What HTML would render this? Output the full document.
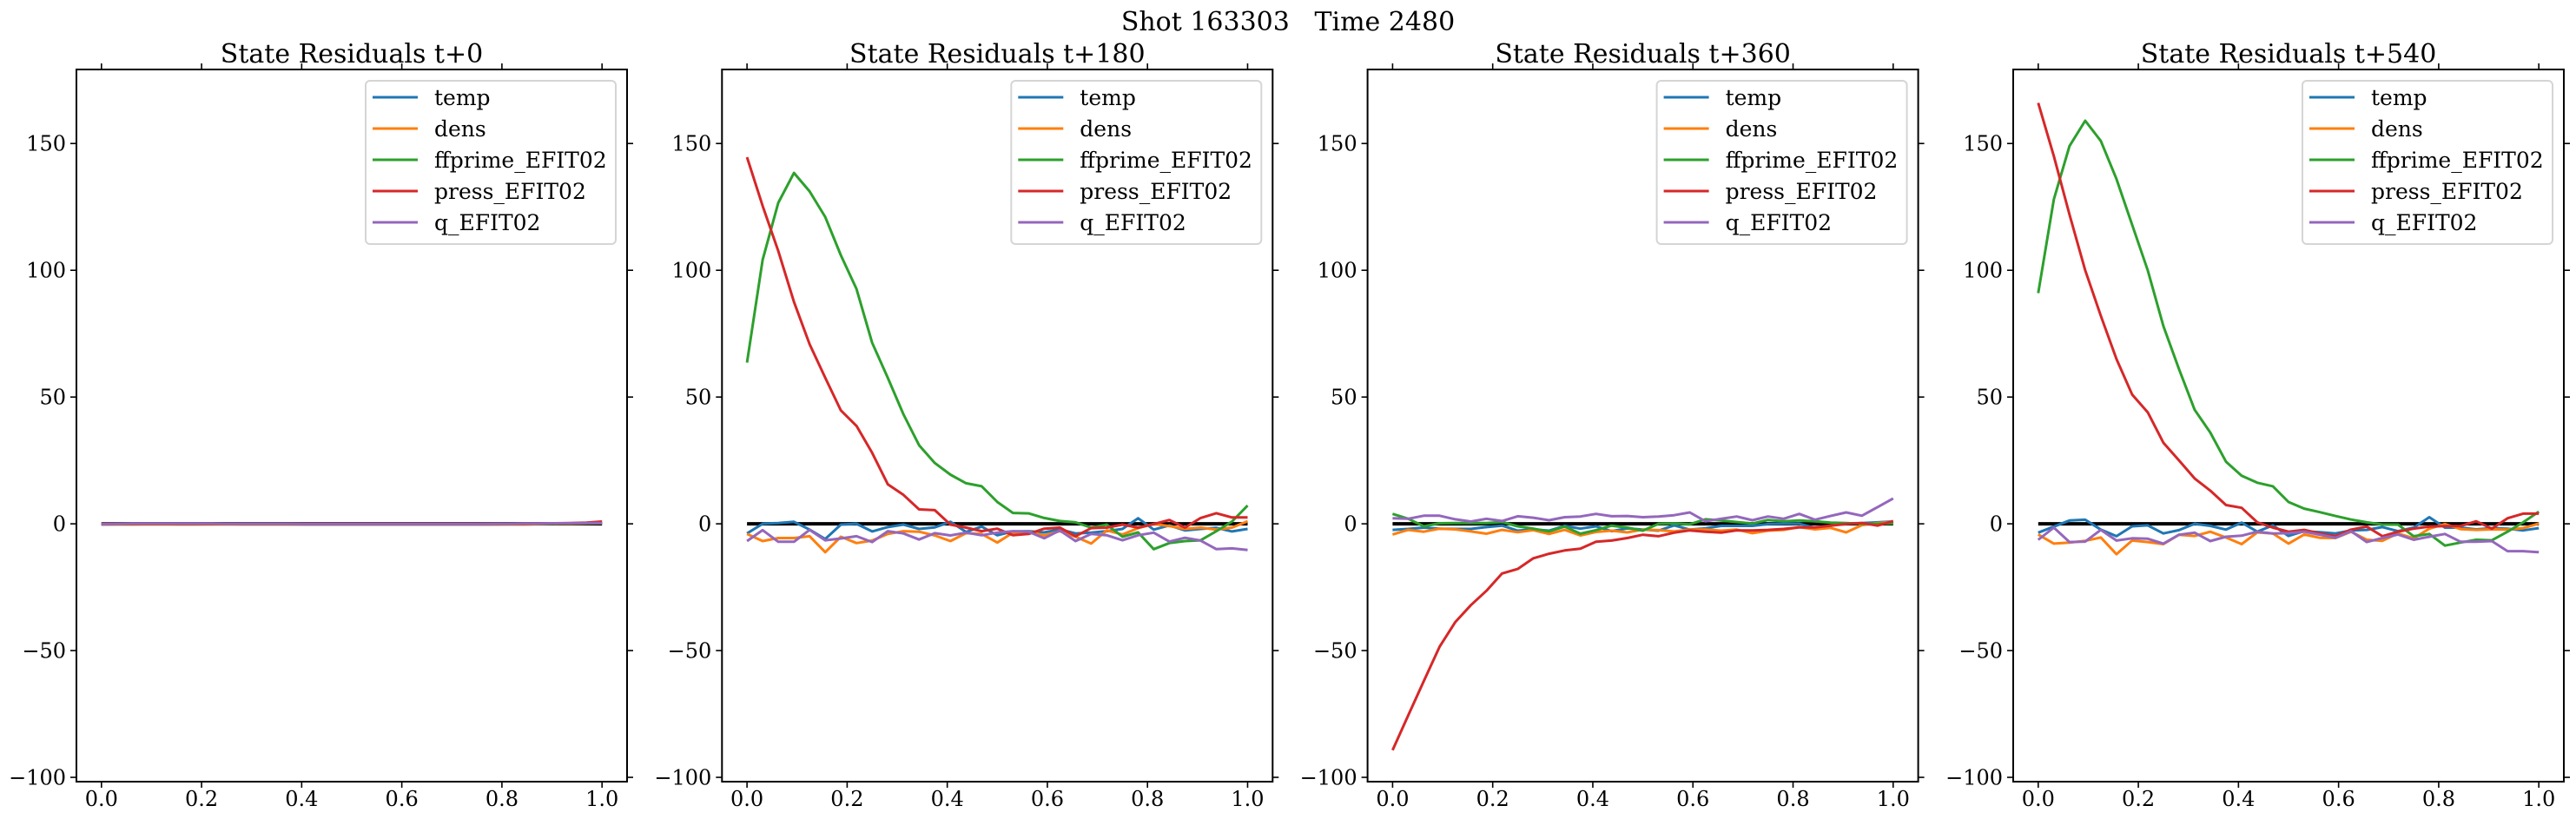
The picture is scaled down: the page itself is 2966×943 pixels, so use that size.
<!DOCTYPE html>
<html><head><meta charset="utf-8"><style>
html,body{margin:0;padding:0;background:#fff;}
svg{display:block;font-family:"DejaVu Serif","Liberation Serif",serif;}
</style></head><body>
<svg id="chart" width="2966" height="943" viewBox="0 0 2966 943" xmlns="http://www.w3.org/2000/svg">
<text x="1483" y="35" font-size="30" text-anchor="middle">Shot 163303&#160;&#160;&#160;Time 2480</text>
</svg>
<script>
const panelTitles = ["State Residuals t+0","State Residuals t+180","State Residuals t+360","State Residuals t+540"];
const seriesNames = ["temp","dens","ffprime_EFIT02","press_EFIT02","q_EFIT02"];
const seriesColors = ["#1f77b4","#ff7f0e","#2ca02c","#d62728","#9467bd"];
const xTicks = [0.0,0.2,0.4,0.6,0.8,1.0];
const xTickLabels = ["0.0","0.2","0.4","0.6","0.8","1.0"];
const yTicks = [150,100,50,0,-50,-100];
const yTickLabels = ["150","100","50","0","\u221250","\u2212100"];
const nPoints = 33;

// panel 1 (t+0)
const p0_temp = [-0.3,-0.2,-0.2,-0.1,-0.1,-0.2,-0.2,-0.1,-0.1,-0.2,-0.2,-0.2,-0.2,-0.3,-0.3,-0.3,-0.3,-0.3,-0.3,-0.3,-0.3,-0.3,-0.3,-0.3,-0.3,-0.3,-0.2,-0.2,-0.1,0,0.1,0.2,0.3];
const p0_dens = [-0.2,-0.2,-0.2,-0.2,-0.2,-0.2,-0.2,-0.2,-0.2,-0.2,-0.2,-0.2,-0.2,-0.2,-0.2,-0.2,-0.2,-0.2,-0.2,-0.2,-0.2,-0.2,-0.2,-0.2,-0.2,-0.2,-0.2,-0.2,-0.1,0,0,0.1,0.2];
const p0_ff = [0,0,0,0,0,0,0,0,0,0,0,0,0,0,0,0,0,0,0,0,0,0,0,0,0,0,0,0,0,0.1,0.1,0.2,0.3];
const p0_press = [0,0,0,0,0,0,0,0,0,0,0,0,0,0,0,0,0,0,0,0,0,0,0,0,0,0,0,0,0.1,0.2,0.3,0.5,0.9];
const p0_q = [-0.1,0,0.1,0.1,0.1,0.1,0.1,0.1,0,0,0,0,0,-0.1,-0.1,-0.1,-0.1,-0.1,-0.1,-0.1,-0.1,-0.1,-0.1,-0.1,-0.1,0,0,0.1,0.1,0.2,0.2,0.3,0.3];

// panel 2 (t+180)
const p1_temp = [-3.8,0,0.3,0.8,-2.3,-6,-0.3,0,-3,-1.3,-0.3,-2,-1.4,0.8,-3.2,-1.1,-4.5,-3,-2.9,-3.4,-2.2,-3.8,-3.5,-2.9,-2,2.2,-2.3,-0.6,-2.6,-2,-1.6,-3,-2];
const p1_dens = [-4,-6.8,-5.6,-5.6,-4.9,-11.2,-5.1,-7.6,-6.6,-4,-2.9,-3.1,-4.6,-6.8,-3.7,-4,-7.4,-3.5,-3.1,-4.6,-2.9,-5.1,-7.8,-2.6,-4.2,-1.7,-0.1,-0.9,-2,-1.5,-2.3,-1.5,1];
const p1_ff = [63.6,104.1,126.6,138.4,131.1,121,105.9,92.6,71.4,57.6,43.2,31,24,19.4,16,14.8,8.6,4.3,4.1,2.3,1.1,0.6,-1.5,-0.3,-5.1,-3.4,-10,-7.6,-6.8,-6.5,-2.9,0.9,7.2];
const p1_press = [144.6,125.4,107.6,87.5,70.8,57.6,44.7,38.6,28,15.6,11.4,5.7,5.4,-0.3,-1.5,-2.9,-1.9,-4.5,-4,-1.9,-1.5,-4.9,-1.7,-1.5,-0.3,-1.5,-0.1,1.5,-1.5,2.3,4.2,2.5,2.5];
const p1_q = [-6.8,-2.5,-7.1,-7.1,-2.4,-6.5,-5.8,-4.9,-7.2,-2.9,-3.8,-6.2,-3.7,-4.6,-3.5,-4.5,-3.5,-2.9,-3.1,-5.7,-2.6,-6.8,-4,-4.5,-6.5,-4.5,-3.5,-7,-5.5,-6.6,-10,-9.7,-10.3];

// panel 3 (t+360)
const p2_temp = [-2.4,-2,-1.5,-1.9,-2,-2,-1.3,-0.7,-2.7,-2.2,-2.7,-0.8,-1.9,-1,-2.9,-1.8,-2.3,-2.7,-0.6,-2.3,-1.8,-0.8,-0.8,-0.8,-0.1,0,0,-1.6,-0.7,0.1,0.3,0.6,0.9];
const p2_dens = [-4.2,-2.4,-3.1,-1.9,-2.2,-3,-3.9,-2.4,-3.3,-2.5,-4,-2.4,-4.6,-3.2,-2.7,-3.4,-2.3,-2.5,-3,-2.3,-2.3,-2.7,-2.3,-3.7,-2.7,-2.4,-1.3,-2.2,-1.6,-3.4,-0.5,0.3,0.7];
const p2_ff = [3.9,2,-1,0.2,0.3,0.3,0.3,0.7,-1,-1.9,-3,-1.1,-3.9,-2.5,-0.7,-1.5,-2.7,0,0.1,-0.2,1.8,1.3,0.7,0.1,1.5,1,1.3,1,0.5,0.3,0,0,0.1];
const p2_press = [-89.3,-75.6,-62,-48.5,-38.8,-32.1,-26.4,-19.6,-17.8,-13.6,-11.8,-10.5,-9.8,-7.1,-6.6,-5.6,-4.3,-4.9,-3.5,-2.6,-3.1,-3.5,-2.6,-2.6,-2.4,-2,-1.4,-1.4,-0.7,-0.1,0.3,-0.7,1.1];
const p2_q = [2.2,2,3.2,3.2,1.8,0.9,2,1.1,3,2.4,1.4,2.6,2.9,3.9,3,3.1,2.6,2.9,3.4,4.5,1,2,2.9,1.4,2.9,2,3.9,1.6,3.1,4.5,3.2,6.6,10];

// panel 4 (t+540)
const p3_temp = [-3.5,-1.1,1.3,1.6,-2.3,-4.9,-1,-0.6,-3.8,-2.5,0,-0.8,-2.3,0.5,-3.1,-0.6,-4.8,-2.9,-3.3,-3.8,-2.6,-2.4,-1.3,-2.9,-1.5,2.6,-1.5,-1.5,-2.2,-1.7,-1.9,-2.6,-1.7];
const p3_dens = [-4.2,-7.8,-7.4,-6.7,-5.4,-12,-6.6,-7.2,-8,-4.3,-4.8,-3.1,-5.4,-8,-3.4,-3.8,-7.8,-4.2,-5.5,-5.6,-3.1,-6.3,-6.7,-3.8,-5.7,-1.9,-0.1,-2.1,-2.4,-2.2,-2.3,-1.7,0.1];
const p3_ff = [91,128,149,159,151,136,118,100,78,61,45,36,24.5,19,16.2,14.8,8.6,6,4.6,3.1,1.7,0.6,-0.3,-0.3,-4.9,-4,-8.6,-7.4,-6.3,-6.5,-3.1,0.6,4.8];
const p3_press = [166,145,122,100,82,65,51,44,32,25,17.9,13.1,7.4,6.3,0.6,-1.5,-3.1,-2.4,-3.8,-4.9,-2.3,-1.1,-4.9,-3.1,-1.9,-1.1,-0.9,-0.9,1,-1.9,2.2,4,4];
const p3_q = [-6.3,-1.5,-7.2,-7,-2.4,-6.6,-5.7,-5.9,-7.8,-4.3,-3.5,-6.8,-5.1,-4.7,-3.1,-3.8,-3.7,-3.1,-4.3,-5.5,-2.9,-7.2,-5.6,-4.2,-6.3,-5.1,-4,-7.1,-7.1,-6.8,-10.8,-10.8,-11.2];

const panels = [
  [p0_temp,p0_dens,p0_ff,p0_press,p0_q],
  [p1_temp,p1_dens,p1_ff,p1_press,p1_q],
  [p2_temp,p2_dens,p2_ff,p2_press,p2_q],
  [p3_temp,p3_dens,p3_ff,p3_press,p3_q]
];

const NS = "http://www.w3.org/2000/svg";
const svg = document.getElementById("chart");
function mk(tag, attrs, parent){
  const e = document.createElementNS(NS, tag);
  for (const k in attrs) e.setAttribute(k, attrs[k]);
  (parent||svg).appendChild(e);
  return e;
}
const AX_W = 634, AX_TOP = 80, AX_BOT = 900;
const XMIN = -0.05, XMAX = 1.05, YMIN = -101.7, YMAX = 179.2;
const lefts = [88, 831.3, 1574.6, 2318];

panels.forEach((series, p) => {
  const L = lefts[p], R = L + AX_W;
  const xs = v => L + (v - XMIN) / (XMAX - XMIN) * AX_W;
  const ys = v => AX_BOT - (v - YMIN) / (YMAX - YMIN) * (AX_BOT - AX_TOP);
  const g = mk("g", {});
  
  

  const t = mk("text", {x: L + AX_W/2, y: 72, "font-size": 30, "text-anchor": "middle"}, g);
  
  
  t.textContent = panelTitles[p];

  const zl = mk("line", {x1: xs(0), x2: xs(1), y1: ys(0), y2: ys(0), stroke: "#000", "stroke-width": 4}, g);
  
  

  series.forEach((vals, s) => {
    const pts = vals.map((v, i) => xs(i/(nPoints-1)).toFixed(1) + "," + ys(v).toFixed(1)).join(" ");
    const pl = mk("polyline", {points: pts, fill: "none", stroke: seriesColors[s], "stroke-width": 3, "stroke-linejoin": "round"}, g);
    
    
  });

  const frame = mk("rect", {x: L, y: AX_TOP, width: AX_W, height: AX_BOT - AX_TOP, fill: "none", stroke: "#000", "stroke-width": 2}, g);
  
  

  xTicks.forEach((v, i) => {
    const x = xs(v);
    const tb = mk("line", {x1: x, x2: x, y1: AX_BOT, y2: AX_BOT + 7, stroke: "#000", "stroke-width": 1.6}, g);
    
    
    const tt = mk("line", {x1: x, x2: x, y1: AX_TOP, y2: AX_TOP - 7, stroke: "#000", "stroke-width": 1.6}, g);
    
    
    const lb = mk("text", {x: x, y: 928, "font-size": 24, "text-anchor": "middle"}, g);
    
    
    lb.textContent = xTickLabels[i];
  });
  yTicks.forEach((v, i) => {
    const y = ys(v);
    const tl = mk("line", {x1: L, x2: L - 7, y1: y, y2: y, stroke: "#000", "stroke-width": 1.6}, g);
    
    
    const tr = mk("line", {x1: R, x2: R + 7, y1: y, y2: y, stroke: "#000", "stroke-width": 1.6}, g);
    
    
    const lb = mk("text", {x: L - 12, y: y + 8.5, "font-size": 24, "text-anchor": "end"}, g);
    
    
    lb.textContent = yTickLabels[i];
  });

  const lg = mk("g", {}, g);
  
  
  const bx = R - 13 - 288;
  const box = mk("rect", {x: bx, y: 93, width: 288, height: 188, rx: 5, fill: "#fff", "fill-opacity": 0.8, stroke: "#d5d5d5", "stroke-width": 2}, lg);
  
  
  seriesNames.forEach((n, s) => {
    const y = 112 + s * 36;
    const ln = mk("line", {x1: bx + 8, x2: bx + 60, y1: y, y2: y, stroke: seriesColors[s], "stroke-width": 3}, lg);
    
    
    const tx = mk("text", {x: bx + 79, y: y + 9, "font-size": 25}, lg);
    
    
    tx.textContent = n;
  });
});
</script>
</body></html>
